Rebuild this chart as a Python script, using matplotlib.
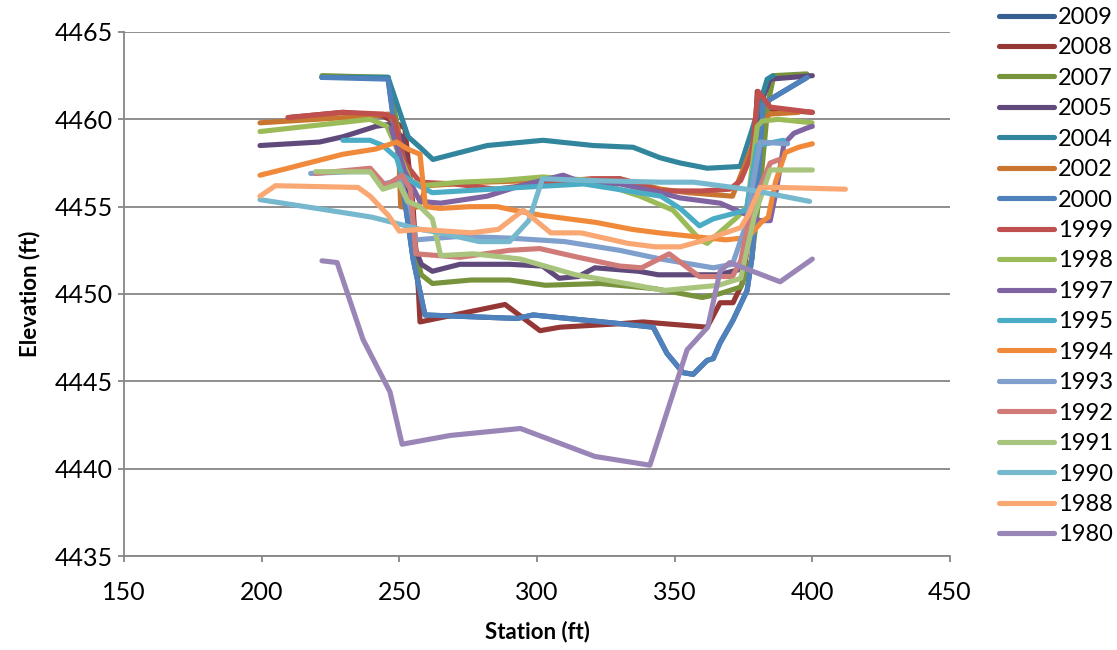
import matplotlib
matplotlib.use("Agg")
import matplotlib.pyplot as plt

plt.rcParams['font.family'] = ['Lato', 'DejaVu Sans']

# station (ft), elevation (ft) for each survey year
years = ['2009', '2008', '2007', '2005', '2004', '2002', '2000', '1999', '1998',
         '1997', '1995', '1994', '1993', '1992', '1991', '1990', '1988', '1980']

x2009 = [221.9, 245.9, 249.5, 255.0, 259.3, 275.7, 292.8, 298.6, 330.2, 342.2, 347.2, 353.0,
         356.7, 361.8, 364.0, 366.5, 371.2, 376.3, 378.1, 380.3, 382.1, 398.1]
y2009 = [4462.4, 4462.4, 4458.2, 4452.0, 4448.8, 4448.7, 4448.6, 4448.8, 4448.3, 4448.1, 4446.6, 4445.5,
         4445.4, 4446.2, 4446.3, 4447.2, 4448.5, 4450.2, 4452.1, 4456.5, 4460.9, 4462.4]

x2008 = [209.6, 229.5, 244.0, 252.0, 255.0, 257.0, 257.5, 288.4, 301.1, 308.4, 330.2, 338.5,
         361.8, 366.5, 371.2, 374.5, 377.4, 380.0, 383.6, 400.0]
y2008 = [4460.1, 4460.4, 4460.2, 4459.5, 4455.0, 4450.0, 4448.4, 4449.4, 4447.9, 4448.1, 4448.3, 4448.4,
         4448.1, 4449.5, 4449.5, 4450.6, 4453.7, 4461.6, 4460.6, 4460.4]

x2007 = [221.9, 245.9, 250.0, 254.0, 256.0, 258.0, 262.0, 276.0, 290.0, 303.0, 323.0, 343.0,
         360.0, 366.0, 374.0, 378.0, 381.0, 384.0, 386.0, 398.0]
y2007 = [4462.5, 4462.4, 4459.0, 4455.0, 4452.3, 4451.1, 4450.6, 4450.8, 4450.8, 4450.5, 4450.6, 4450.3,
         4449.8, 4450.0, 4450.4, 4452.0, 4456.0, 4461.0, 4462.5, 4462.6]

x2005 = [199.4, 221.0, 229.5, 241.5, 246.0, 251.0, 254.0, 256.0, 258.0, 262.0, 272.0, 290.0,
         302.0, 308.0, 315.0, 321.0, 337.0, 344.0, 366.0, 373.5, 377.0, 380.0, 382.0, 384.7, 400.0]
y2005 = [4458.5, 4458.7, 4459.0, 4459.6, 4459.7, 4459.0, 4455.0, 4452.5, 4451.7, 4451.3, 4451.7, 4451.7,
         4451.6, 4450.9, 4451.0, 4451.5, 4451.3, 4451.1, 4451.1, 4451.4, 4453.0, 4458.0, 4461.2, 4462.3, 4462.5]

x2004 = [221.9, 245.9, 253.2, 257.5, 262.2, 272.0, 281.9, 302.2, 320.4, 334.9, 344.7, 352.0,
         361.8, 373.8, 378.5, 383.6, 385.7]
y2004 = [4462.4, 4462.4, 4459.0, 4458.4, 4457.7, 4458.1, 4458.5, 4458.8, 4458.5, 4458.4, 4457.8, 4457.5,
         4457.2, 4457.3, 4459.6, 4462.3, 4462.5]

x2002 = [199.4, 220.0, 240.0, 246.0, 249.5, 250.5, 254.0, 257.0, 260.0, 280.0, 300.0, 330.0,
         345.0, 355.0, 371.0, 377.0, 381.0, 384.5, 395.0]
y2002 = [4459.8, 4460.0, 4460.2, 4460.3, 4459.5, 4455.0, 4454.9, 4455.0, 4456.2, 4456.4, 4456.5, 4456.6,
         4456.0, 4455.8, 4455.6, 4458.0, 4459.6, 4460.3, 4460.4]

x2000 = [221.9, 245.9, 249.5, 255.0, 259.3, 275.7, 292.8, 298.6, 330.2, 342.2, 347.2, 353.0,
         356.7, 361.8, 364.0, 366.5, 371.2, 376.3, 378.1, 380.3, 382.1, 398.1]
y2000 = [4462.4, 4462.3, 4458.0, 4452.0, 4448.8, 4448.7, 4448.6, 4448.8, 4448.3, 4448.1, 4446.6, 4445.5,
         4445.4, 4446.2, 4446.3, 4447.2, 4448.5, 4450.2, 4452.1, 4456.5, 4460.9, 4462.4]

x1999 = [209.6, 229.5, 244.1, 248.0, 252.0, 257.5, 270.0, 285.0, 300.0, 320.0, 330.0, 345.0,
         360.0, 370.0, 374.0, 378.0, 380.3, 384.7, 400.0]
y1999 = [4460.1, 4460.4, 4460.3, 4460.1, 4457.5, 4456.4, 4456.3, 4456.0, 4456.3, 4456.6, 4456.6, 4455.9,
         4455.9, 4456.0, 4456.5, 4458.0, 4461.6, 4460.7, 4460.4]

x1998 = [199.4, 239.4, 245.5, 250.0, 254.0, 258.0, 272.0, 287.0, 302.0, 320.0, 337.4, 349.4,
         359.2, 361.8, 372.7, 376.3, 380.0, 381.8, 387.6, 399.9]
y1998 = [4459.3, 4460.0, 4459.6, 4458.0, 4456.5, 4456.2, 4456.4, 4456.5, 4456.7, 4456.5, 4455.6, 4454.8,
         4453.1, 4452.9, 4454.4, 4455.0, 4459.6, 4459.9, 4460.0, 4459.8]

x1997 = [247.0, 252.0, 257.5, 265.0, 281.9, 294.0, 309.5, 314.6, 330.2, 344.7, 352.0, 366.5,
         373.8, 381.0, 384.7, 387.0, 389.7, 393.3, 398.0, 400.0]
y1997 = [4459.5, 4457.0, 4455.3, 4455.2, 4455.6, 4456.2, 4456.8, 4456.5, 4456.3, 4455.8, 4455.5, 4455.2,
         4454.7, 4454.2, 4454.2, 4456.0, 4458.6, 4459.2, 4459.5, 4459.6]

x1995 = [229.5, 239.4, 244.0, 249.0, 251.0, 257.0, 262.0, 294.0, 317.0, 345.0, 352.0, 359.0,
         364.0, 376.0, 380.0, 389.5]
y1995 = [4458.8, 4458.8, 4458.5, 4457.8, 4456.8, 4456.2, 4455.8, 4456.1, 4456.3, 4455.6, 4454.9, 4453.9,
         4454.3, 4454.8, 4458.5, 4458.8]

x1994 = [199.4, 209.6, 214.5, 229.5, 241.5, 249.0, 253.0, 257.5, 259.5, 264.8, 275.7, 285.5,
         294.7, 301.8, 321.3, 334.5, 344.3, 356.4, 368.4, 374.5, 378.1, 381.4, 384.0, 386.6, 390.2, 395.0, 400.0]
y1994 = [4456.8, 4457.2, 4457.4, 4458.0, 4458.3, 4458.7, 4458.3, 4458.0, 4455.0, 4454.9, 4455.0, 4455.0,
         4454.7, 4454.5, 4454.1, 4453.7, 4453.5, 4453.3, 4453.1, 4453.2, 4453.5, 4454.1, 4454.4, 4456.4, 4458.1, 4458.4, 4458.6]

x1993 = [217.8, 232.0, 240.0, 244.0, 250.0, 254.0, 256.0, 272.0, 290.0, 310.0, 330.0, 345.0,
         364.0, 371.0, 376.0, 381.0, 391.0]
y1993 = [4456.9, 4457.0, 4457.0, 4456.3, 4456.5, 4455.0, 4453.1, 4453.3, 4453.2, 4453.0, 4452.5, 4452.0,
         4451.5, 4451.7, 4454.0, 4458.7, 4458.6]

x1992 = [219.6, 239.4, 245.0, 251.0, 254.0, 256.0, 272.0, 290.0, 301.0, 315.0, 330.0, 338.0,
         348.0, 359.0, 371.0, 374.0, 378.0, 384.7, 388.0]
y1992 = [4456.9, 4457.2, 4456.2, 4456.8, 4456.0, 4452.3, 4452.1, 4452.5, 4452.6, 4452.1, 4451.6, 4451.5,
         4452.3, 4451.0, 4451.0, 4451.9, 4455.0, 4457.5, 4457.7]

x1991 = [219.6, 239.4, 244.0, 250.0, 253.0, 257.5, 262.0, 265.0, 277.0, 294.0, 314.0, 336.0,
         346.0, 366.0, 374.0, 379.0, 384.7, 400.0]
y1991 = [4457.0, 4457.0, 4456.0, 4456.3, 4455.3, 4455.0, 4454.3, 4452.2, 4452.3, 4452.0, 4451.1, 4450.5,
         4450.2, 4450.5, 4450.9, 4454.5, 4457.1, 4457.1]

x1990 = [199.4, 220.0, 240.0, 257.5, 265.0, 279.0, 290.0, 297.0, 302.0, 318.0, 345.0, 357.0,
         376.0, 386.0, 399.0]
y1990 = [4455.4, 4454.9, 4454.4, 4453.7, 4453.5, 4453.0, 4453.0, 4454.2, 4456.6, 4456.5, 4456.4, 4456.4,
         4456.0, 4455.7, 4455.3]

x1988 = [199.4, 205.0, 235.0, 239.4, 246.0, 250.0, 257.5, 276.0, 286.0, 295.0, 305.0, 316.0,
         333.0, 343.0, 352.0, 359.0, 374.0, 377.0, 381.0, 388.0, 412.0]
y1988 = [4455.6, 4456.2, 4456.1, 4455.6, 4454.5, 4453.6, 4453.7, 4453.5, 4453.7, 4454.8, 4453.5, 4453.5,
         4452.9, 4452.7, 4452.7, 4453.0, 4453.8, 4454.6, 4456.1, 4456.1, 4456.0]

x1980 = [221.9, 227.4, 236.8, 246.6, 251.0, 268.4, 294.0, 321.0, 341.0, 354.5, 362.0, 366.5,
         370.0, 388.3, 400.0]
y1980 = [4451.9, 4451.8, 4447.4, 4444.4, 4441.4, 4441.9, 4442.3, 4440.7, 4440.2, 4446.8, 4448.1, 4451.3,
         4451.8, 4450.7, 4452.0]

xs = [x2009, x2008, x2007, x2005, x2004, x2002, x2000, x1999, x1998,
      x1997, x1995, x1994, x1993, x1992, x1991, x1990, x1988, x1980]
ys = [y2009, y2008, y2007, y2005, y2004, y2002, y2000, y1999, y1998,
      y1997, y1995, y1994, y1993, y1992, y1991, y1990, y1988, y1980]
colors = ['#376092', '#953735', '#77933C', '#604A7B', '#31859C', '#C8762F', '#4F81BD', '#C0504D',
          '#9BBB59', '#8064A2', '#4BACC6', '#F08A3A', '#7F9FCC', '#D07B78', '#A9C47C', '#76B9CF',
          '#F9A873', '#9A86B6']

fig = plt.figure(figsize=(11.17, 6.5), dpi=100)
ax = fig.add_axes([0.111, 0.1446, 0.7395, 0.8062])

for x, y, c, lab in zip(xs, ys, colors, years):
    ax.plot(x, y, color=c, lw=3.7, label=lab, solid_joinstyle='round', solid_capstyle='round')

ax.set_xlim(150, 450)
ax.set_ylim(4435, 4465)
ax.set_xticks(range(150, 451, 50))
ax.set_yticks(range(4435, 4466, 5))
ax.yaxis.grid(True, color='#868686', lw=1.3)
ax.set_axisbelow(True)
for s in ['top', 'right']:
    ax.spines[s].set_visible(False)
for s in ['left', 'bottom']:
    ax.spines[s].set_color('#868686')
    ax.spines[s].set_linewidth(1.3)
ax.tick_params(colors='#868686', labelcolor='black', labelsize=18, length=4, width=1.3)
ax.tick_params(axis='y', pad=4)
ax.tick_params(axis='x', pad=14)

ax.set_xlabel('Station (ft)', fontsize=16, fontweight='bold', labelpad=12)
ax.set_ylabel('Elevation (ft)', fontsize=16, fontweight='bold', labelpad=10)

ax.legend(loc='upper left', bbox_to_anchor=(1.048, 1.066), frameon=False, fontsize=17,
          handlelength=2.33, handletextpad=0.17, labelspacing=0.40, borderaxespad=0)

fig.savefig('out.png', dpi=100)
